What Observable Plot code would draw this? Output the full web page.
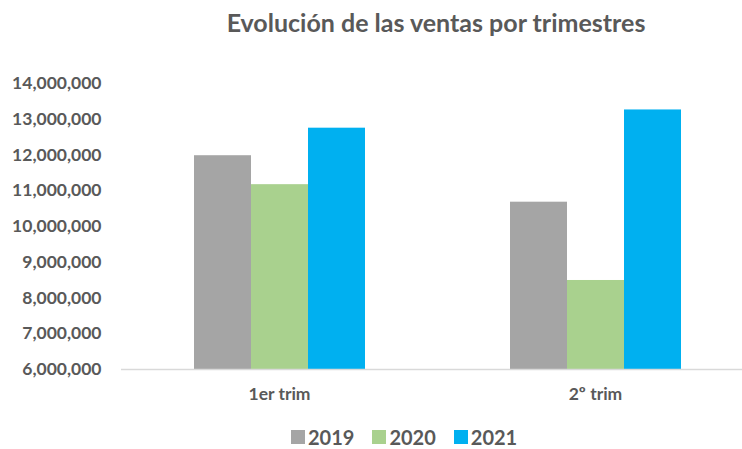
<!DOCTYPE html>
<html><head><meta charset="utf-8">
<script src="https://cdn.jsdelivr.net/npm/d3@7"></script>
<script src="https://cdn.jsdelivr.net/npm/@observablehq/plot@0.6"></script>
<style>
html,body{margin:0;padding:0;background:#fff;}
body{width:742px;height:449px;position:relative;overflow:hidden;font-family:Lato,sans-serif;color:#595959;}
#title{position:absolute;left:136px;width:600px;top:7px;text-align:center;font-size:25px;font-weight:bold;white-space:nowrap;}
#chart{position:absolute;left:0;top:60px;}
#legend{position:absolute;left:291px;top:425px;display:flex;gap:18px;font-size:20px;font-weight:bold;}
#legend .item{display:flex;align-items:center;gap:3px;}
#legend .sw{width:14px;height:14px;display:inline-block;}
</style>
</head><body>
<div id="title">Evolución de las ventas por trimestres</div>
<div id="chart"></div>
<div id="legend"></div>
<script>
const quarters = ["1er trim", "2º trim"];
const years = ["2019", "2020", "2021"];
const sales2019 = [11980000, 10680000];
const sales2020 = [11170000, 8490000];
const sales2021 = [12750000, 13260000];
const yTicks = [6000000, 7000000, 8000000, 9000000, 10000000, 11000000, 12000000, 13000000, 14000000];
const colors = ["#A5A5A5", "#A9D18E", "#00B0F0"];

const series = [sales2019, sales2020, sales2021];
const data = [];
quarters.forEach((q, i) => years.forEach((y, j) => data.push({quarter: q, year: y, value: series[j][i]})));

const chart = Plot.plot({
  width: 742,
  height: 355,
  marginLeft: 120,
  marginRight: 0,
  marginTop: 23,
  marginBottom: 46,
  style: {fontFamily: "Lato, sans-serif", fontSize: "17.5px", fontWeight: "bold", color: "#595959", background: "transparent"},
  fx: {domain: quarters, range: [120, 753], padding: 0, label: null, axis: "bottom", tickSize: 0, tickPadding: 18},
  x: {domain: years, paddingInner: 0, paddingOuter: 1.24, axis: null},
  y: {domain: [6000000, 14000000], ticks: yTicks, tickFormat: d3.format(","), tickSize: 0, tickPadding: 20, label: null},
  color: {domain: years, range: colors},
  marks: [
    Plot.barY(data, {fx: "quarter", x: "year", y1: 6000000, y2: "value", fill: "year"}),
    Plot.ruleY([6000000], {stroke: "#D9D9D9", strokeWidth: 1.5})
  ]
});
document.getElementById("chart").appendChild(chart);

const legend = document.getElementById("legend");
years.forEach((y, i) => {
  const item = document.createElement("div");
  item.className = "item";
  const sw = document.createElement("span");
  sw.className = "sw";
  sw.style.background = colors[i];
  const t = document.createElement("span");
  t.textContent = y;
  item.appendChild(sw); item.appendChild(t);
  legend.appendChild(item);
});
</script>
</body></html>
